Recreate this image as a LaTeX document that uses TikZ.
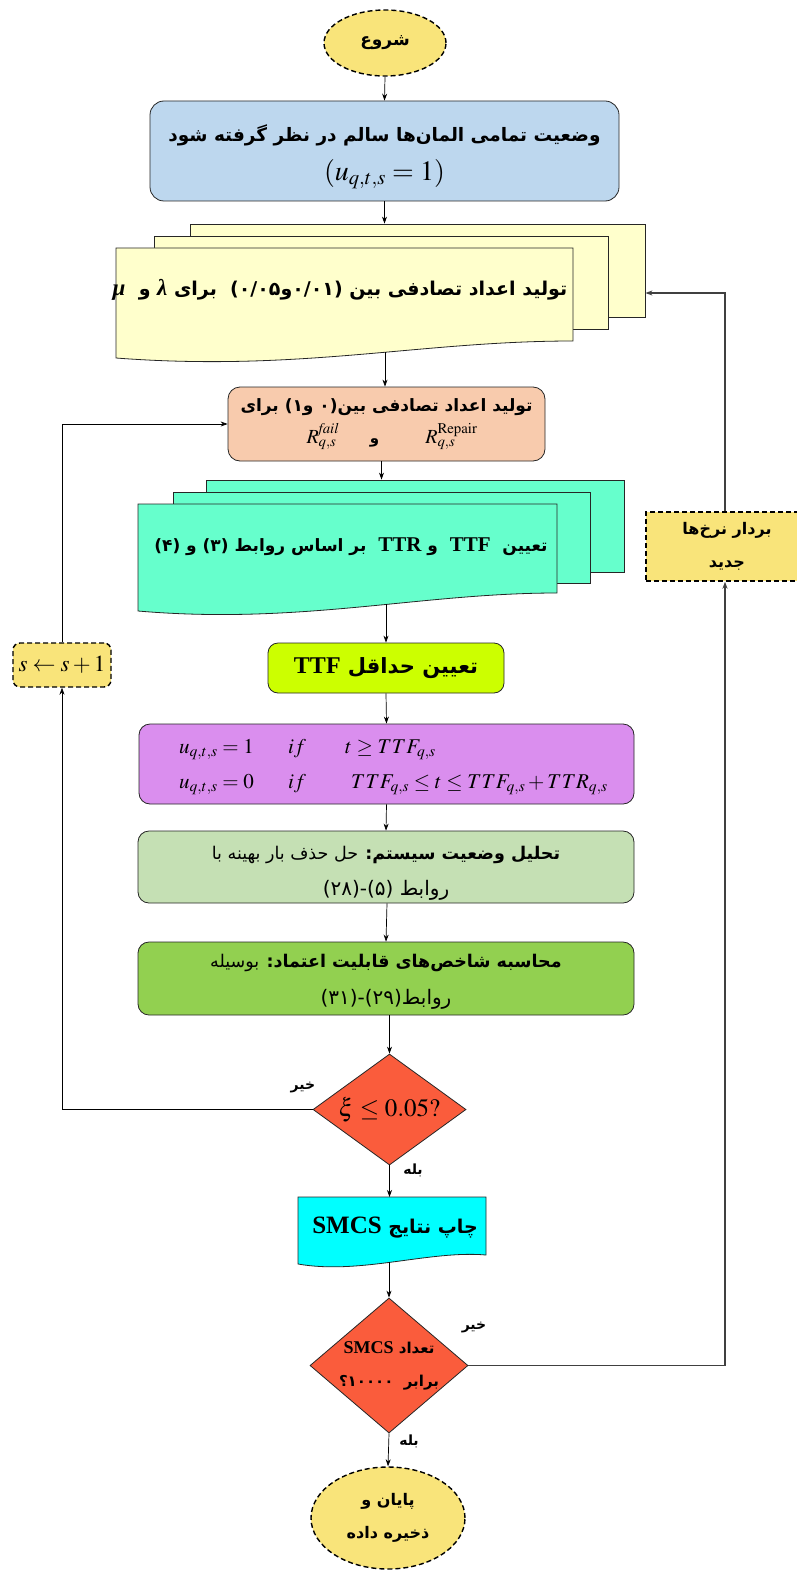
\documentclass[tikz,border=0pt]{standalone}
\usepackage{fontspec}
\setmainfont{Liberation Serif}
\usepackage{mathptmx}
\newfontfamily\farsi[Script=Arabic]{DejaVu Sans}
\newfontfamily\tnr{Liberation Serif}
\TeXXeTstate=1
\usetikzlibrary{shapes.geometric,arrows.meta,calc}
\newcommand{\rtl}[1]{\beginR#1\endR}
\newcommand{\vis}[1]{\hbox{#1}}
\newcommand{\fsz}[2]{\fontsize{#1}{#2}\selectfont}
\definecolor{yel}{HTML}{F9E47A}
\definecolor{blue1}{HTML}{BDD7EE}
\definecolor{ypale}{HTML}{FFFFCC}
\definecolor{peach}{HTML}{F8CBAD}
\definecolor{teal1}{HTML}{66FFCC}
\definecolor{lime1}{HTML}{CCFF00}
\definecolor{purp1}{HTML}{DA8EEE}
\definecolor{lgr}{HTML}{C5E0B4}
\definecolor{gr}{HTML}{92D050}
\definecolor{red1}{HTML}{FA5C3C}
\definecolor{cyan1}{HTML}{00FFFF}
\begin{document}
\begin{tikzpicture}[x=1pt,y=-1pt,
  box/.style={draw=black!85, line width=0.8pt, align=center, inner sep=2pt},
  rbox/.style={box, rectangle, rounded corners=11pt},
  pg/.style={draw=black!85, line width=0.8pt, rectangle, inner sep=0pt},
  dsh/.style={draw=black, line width=1.4pt, dash pattern=on 5pt off 3pt},
  arr/.style={-{Stealth[length=7pt,width=5pt]}, line width=0.7pt, draw=black},
  lbl/.style={font=\farsi\bfseries\fsz{14}{16}, inner sep=1pt},
  dia/.style={diamond, draw=black!85, line width=0.8pt, fill=red1, inner sep=0pt, align=center},
  txt/.style={inner sep=0pt, align=center}]
\useasboundingbox (0,0) rectangle (796,1570);

% start
\node[ellipse, dsh, fill=yel, minimum width=122pt, minimum height=66pt, inner sep=0pt,
      font=\farsi\bfseries\fsz{17}{20}] (start) at (385,43) {\rtl{شروع}};

% init
\node[rbox, fill=blue1, minimum width=469pt, minimum height=100pt, rounded corners=14pt] (init) at (384.5,151) {};
\node[txt] (inittext) at (384.5,157)
  {{\farsi\bfseries\fsz{18.5}{24}\rtl{وضعیت تمامی المان‌ها سالم در نظر گرفته شود}}\\[12pt]
   {\fsz{28}{30}$(u_{q,t,s}=1)$}};

% yellow multi-document
\node[pg, fill=ypale, minimum width=455pt, minimum height=93pt] (yback) at (417.5,270.5) {};
\node[pg, fill=ypale, minimum width=454pt, minimum height=93pt] (ymid) at (381,282.5) {};
\draw[draw=black!85, line width=0.8pt, fill=ypale] (116,248) -- (573,248) -- (573,341)
   .. controls (420,341) and (300,372) .. (116,358) -- cycle;
\node[font=\farsi\bfseries\fsz{19}{22}, txt] (ytext) at (340,290)
  {\rtl{تولید اعداد تصادفی بین \vis{\hbox{(۰/۰۱}\hbox{و}\hbox{۰/۰۵)}}\ \ برای \vis{\tnr\bfseries\itshape\fsz{23}{24}λ}\ و\ \ \vis{\tnr\bfseries\itshape\fsz{23}{24}μ}}};
\coordinate (yout) at (385,352);
\coordinate (ybin) at ($(yback.east)+(0,22.5)$);

% random numbers
\node[rbox, fill=peach, minimum width=317pt, minimum height=74pt, rounded corners=12pt] (rand) at (386.5,424)
  {{\farsi\bfseries\fsz{17}{20}\rtl{تولید اعداد تصادفی بین\vis{\hbox{(۰\ }\hbox{و}\hbox{۱)}} برای}}\\[6pt]
   {\fsz{20}{22}\hspace*{11pt}$R^{\mathit{fail}}_{q,s}$\hspace{31pt}{\farsi\bfseries\fsz{15}{20}و}\hspace{46pt}$R^{\mathrm{Repair}}_{q,s}$}};

% teal multi-document
\node[pg, fill=teal1, minimum width=418pt, minimum height=92pt] (tback) at (415,526) {};
\node[pg, fill=teal1, minimum width=417pt, minimum height=91pt] (tmid) at (381.5,537.5) {};
\draw[draw=black!85, line width=0.8pt, fill=teal1] (138,504) -- (557,504) -- (557,593)
   .. controls (420,593) and (300,625) .. (138,611) -- cycle;
\node[font=\farsi\bfseries\fsz{17}{20}, txt] (ttext) at (351,547)
  {\rtl{تعیین \ \vis{\tnr\bfseries\fsz{21}{24}TTF}\ \ و \vis{\tnr\bfseries\fsz{21}{24}TTR}\ \ بر اساس روابط (۳) و (۴)}};
\coordinate (tout) at (386,604);

% min TTF
\node[rbox, fill=lime1, minimum width=236pt, minimum height=50pt, rounded corners=10pt,
      font=\farsi\bfseries\fsz{21}{24}] (minttf) at (386,668)
  {\rtl{تعیین حداقل \vis{\tnr\bfseries\fsz{24}{26}TTF}}};

% status equations
\node[rbox, fill=purp1, minimum width=495pt, minimum height=80pt, rounded corners=11pt] (purp) at (386.5,764) {};
\node[txt, align=left, anchor=west, font=\fsz{21}{35}] (purptext) at (179,767)
  {\makebox[109pt][l]{$u_{q,t,s}=1$}\makebox[57pt][l]{$if$}$t\ge TTF_{q,s}$\\
   \makebox[109pt][l]{$u_{q,t,s}=0$}\makebox[63pt][l]{$if$}$TTF_{q,s}\le t\le TTF_{q,s}+TTR_{q,s}$};

% system analysis
\node[rbox, fill=lgr, minimum width=496pt, minimum height=72pt, rounded corners=11pt] (lgreen) at (386,867) {};
\node[txt, font=\farsi\fsz{17.5}{36}] (lgtext) at (386,873)
  {\rtl{{\bfseries تحلیل وضعیت سیستم:} حل حذف بار بهینه با}\\
   \rtl{{\fsz{20}{36}روابط \vis{(۵)-(۲۸)}}}};

% reliability indices
\node[rbox, fill=gr, minimum width=496pt, minimum height=73pt, rounded corners=11pt] (green) at (386,978.5) {};
\node[txt, font=\farsi\fsz{17.5}{37}] (grtext) at (386,981.5)
  {\rtl{{\bfseries محاسبه شاخص‌های قابلیت اعتماد:} بوسیله}\\
   \rtl{{\fsz{20}{37}روابط\vis{(۲۹)-(۳۱)}}}};

% decision 1
\node[dia, minimum width=153pt, minimum height=111pt, aspect=1.38, font=\fsz{25}{28}] (d1) at (389.5,1109.5) {$\xi\le 0.05?$};

% print results (document)
\draw[draw=black!85, line width=0.8pt, fill=cyan1] (298,1197) -- (486,1197) -- (486,1255)
   .. controls (430,1250) and (360,1275) .. (298,1264) -- cycle;
\coordinate (ctop) at (389.5,1197);
\coordinate (cout) at (389,1262);
\node[font=\farsi\bfseries\fsz{19}{22}, txt] (ctext) at (395,1228)
  {\rtl{چاپ نتایج \vis{\tnr\bfseries\fsz{25}{28}SMCS}}};

% decision 2
\node[dia, minimum width=158pt, minimum height=135pt, aspect=1.17, font=\farsi\bfseries\fsz{15}{33}] (d2) at (389,1365.5)
  {\rtl{تعداد \vis{\tnr\bfseries\fsz{18}{20}SMCS}}\\ \rtl{برابر \ \vis{\hbox{۱۰۰۰۰}\hbox{؟}}}};

% end
\node[ellipse, dsh, fill=yel, minimum width=154pt, minimum height=102pt, inner sep=0pt, align=center,
      font=\farsi\bfseries\fsz{16}{33}] (end) at (388,1518)
  {\rtl{پایان و}\\ \rtl{ذخیره داده}};

% loop boxes
\node[rectangle, rounded corners=7pt, dsh, fill=yel, minimum width=98pt, minimum height=44pt, inner sep=0pt,
      font=\fsz{23}{24}] (sbox) at (62,665) {$s\leftarrow s+1$};
\node[rectangle, dsh, fill=yel, minimum width=162pt, minimum height=69pt, inner sep=0pt, align=center,
      font=\farsi\bfseries\fsz{16}{33}] (rbox) at (727,546.5)
  {\rtl{بردار نرخ‌ها}\\ \rtl{جدید}};

% connectors
\draw[arr] (start.south) -- (init.north);
\draw[arr] (init.south) -- (init.south |- yback.north);
\draw[arr] (yout) -- (yout |- rand.north);
\draw[arr] ([xshift=-5pt]rand.south) -- ([xshift=-5pt]rand.south |- tback.north);
\draw[arr] (tout) -- (tout |- minttf.north);
\draw[arr] (minttf.south) -- (purp.north);
\draw[arr] (purp.south) -- (lgreen.north);
\draw[arr] ([xshift=1pt]lgreen.south) -- (green.north);
\draw[arr] ([xshift=3.5pt]green.south) -- (d1.north);
\draw[arr] (d1.south) -- (ctop);
\draw[arr] (cout) -- (d2.north);
\draw[arr] (d2.south) -- (end.north);
\draw[arr] (d1.west) -| (sbox.south);
\draw[arr] (sbox.north) |- (rand.west);
\draw[arr, line width=1.1pt, draw=black!75] (d2.east) -| ([xshift=-2pt]rbox.south);
\draw[arr, line width=1.1pt, draw=black!75] ([xshift=-2pt]rbox.north) |- (ybin);

% labels
\node[lbl] (no1) at (303,1087) {\rtl{خیر}};
\node[lbl] (yes1) at (413,1170) {\rtl{بله}};
\node[lbl] (no2) at (474,1327) {\rtl{خیر}};
\node[lbl] (yes2) at (409,1441) {\rtl{بله}};
\end{tikzpicture}
\end{document}
